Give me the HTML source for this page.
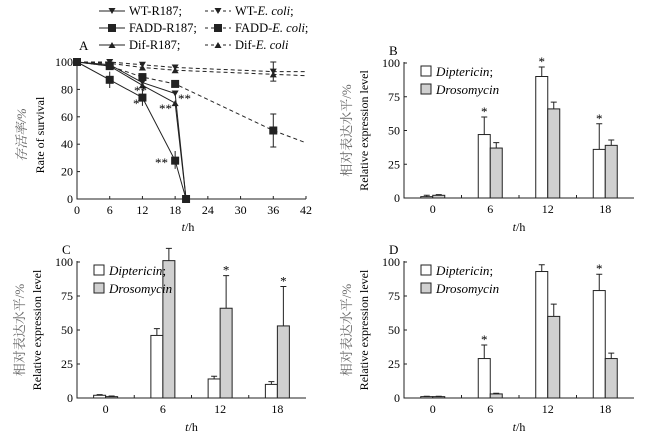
<!DOCTYPE html>
<html><head><meta charset="utf-8"><style>
body{margin:0;background:#fff;}
svg, svg text{font-family:"Liberation Serif","Times New Roman","Noto Serif CJK SC",serif;}
svg{display:block;}
</style></head><body>
<svg id="fig" width="659" height="441" viewBox="0 0 659 441" font-family="Liberation Serif, Noto Serif CJK SC, serif"></svg>
<script>
// Panel A data
const timesA = [0, 6, 12, 18, 20, 36, 42];
const wtR187 = [100, 98, 85, 77, 0, null, null];
const faddR187 = [100, 87, 74, 28, 0, null, null];
const difR187 = [100, 97, 83, 70, 0, null, null];
const wtEcoli = [100, 100, 98, 96, null, 93, 93];
const faddEcoli = [100, 97, 89, 84, null, 50, 41];
const difEcoli = [100, 99, 96, 94, null, 91, 90];
const xTicksA = [0, 6, 12, 18, 24, 30, 36, 42];
const yTicksA = [0, 20, 40, 60, 80, 100];
// Panels B-D data
const categories = ["0", "6", "12", "18"];
const diptB = [1, 47, 90, 36]; const drosB = [2, 37, 66, 39];
const diptBErr = [1, 13, 7, 19]; const drosBErr = [0.5, 4, 5, 4];
const diptC = [2, 46, 14, 10]; const drosC = [1, 101, 66, 53];
const diptCErr = [0.5, 5, 2, 2]; const drosCErr = [0.5, 9, 24, 29];
const diptD = [1, 29, 93, 79]; const drosD = [1, 3, 60, 29];
const diptDErr = [0.3, 10, 5, 12]; const drosDErr = [0.3, 0.5, 9, 4];
const starsB = [false, true, true, true];
const starsC = [false, false, true, true];
const starsD = [false, true, false, true];
const yTicksBar = [0, 25, 50, 75, 100];

const NS = "http://www.w3.org/2000/svg";
const svg = document.getElementById("fig");
function el(tag, attrs, parent, text){
  const e = document.createElementNS(NS, tag);
  for (const k in attrs) e.setAttribute(k, attrs[k]);
  if (text !== undefined) e.textContent = text;
  (parent || svg).appendChild(e);
  return e;
}
function marker(g, type, x, y){
  let m;
  if (type === "sq") m = el("rect", {x:x-4, y:y-4, width:8, height:8, fill:"#222"}, g);
  else if (type === "down") m = el("polygon", {points:`${x-3.5},${y-3} ${x+3.5},${y-3} ${x},${y+3}`, fill:"#222"}, g);
  else m = el("polygon", {points:`${x-3.5},${y+3} ${x+3.5},${y+3} ${x},${y-3}`, fill:"#222"}, g);
  
  
}

// ---------- Panel A ----------
(function(){
  const g = el("g", {});  
  const x0 = 77, x1 = 306, y0 = 199, y1 = 62;
  const xs = v => x0 + (v/42)*(x1-x0);
  const ys = v => y0 - (v/100)*(y0-y1);
  const ax = el("path", {d:`M${x0},${y1-2} V${y0} H${x1}`, stroke:"#222", fill:"none", "stroke-width":1}, g);
   
  xTicksA.forEach(t => {
    el("line", {x1:xs(t), x2:xs(t), y1:y0, y2:y0-3, stroke:"#222"}, g);
    const l = el("text", {x:xs(t), y:y0+15, "font-size":12, "text-anchor":"middle"}, g, t);
     
  });
  yTicksA.forEach(t => {
    el("line", {x1:x0, x2:x0+3, y1:ys(t), y2:ys(t), stroke:"#222"}, g);
    const l = el("text", {x:x0-4, y:ys(t)+4, "font-size":12, "text-anchor":"end"}, g, t);
     
  });
  const series = [
    [wtR187, "down", false], [faddR187, "sq", false], [difR187, "up", false],
    [wtEcoli, "down", true], [faddEcoli, "sq", true], [difEcoli, "up", true]];
  series.forEach(([vals, m, dash]) => {
    const pts = [];
    vals.forEach((v,i) => { if (v !== null) pts.push([xs(timesA[i]), ys(v), timesA[i]]); });
    const p = el("polyline", {points: pts.map(p=>p[0]+","+p[1]).join(" "), fill:"none", stroke:"#222", "stroke-width":1, "stroke-dasharray": dash ? "4,3" : "none"}, g);
     
    pts.forEach(p => { if (p[2] !== 42) marker(g, m, p[0], p[1]); });
  });
  el("path", {d:`M${xs(36)},${ys(38)} V${ys(62)} M${xs(36)-3},${ys(38)} h6 M${xs(36)-3},${ys(62)} h6`, stroke:"#222"}, g);
  el("path", {d:`M${xs(36)},${ys(86)} V${ys(100)} M${xs(36)-3},${ys(86)} h6 M${xs(36)-3},${ys(100)} h6`, stroke:"#222"}, g);
  el("path", {d:`M${xs(18)},${ys(22)} V${ys(35)} M${xs(6)},${ys(81)} V${ys(93)} M${xs(12)},${ys(68)} V${ys(80)}`, stroke:"#222"}, g);
  [["*",133,108],["**",134,95],["**",178,103],["**",159,113],["**",155,167]].forEach(a=>{
    const s = el("text", {x:a[1], y:a[2], "font-size":13}, g, a[0]);
     
  });
  const lA = el("text", {x:79, y:50, "font-size":13}, g, "A");  
  const yl = el("text", {transform:"translate(26,135) rotate(-90)", "font-size":12, "text-anchor":"middle"}, g);
   
  el("tspan", {x:0, y:0, fill:"#666", "font-style":"italic", "font-size":13}, yl, "存活率/%");
  el("tspan", {x:0, y:18}, yl, "Rate of survival");
  const xl = el("text", {x:188, y:231, "font-size":12, "text-anchor":"middle"}, g);
   
  el("tspan", {"font-style":"italic"}, xl, "t"); el("tspan", {}, xl, "/h");
  const leg = [["WT-R187;","down",false,99,15],["FADD-R187;","sq",false,99,32],["Dif-R187;","up",false,99,49],
               ["WT-","down",true,205,15],["FADD-","sq",true,205,32],["Dif-","up",true,205,49]];
  leg.forEach((L,i)=>{
    const lg = el("g", {}, g);  
    el("line", {x1:L[3], x2:L[3]+26, y1:L[4]-4, y2:L[4]-4, stroke:"#222", "stroke-dasharray": L[2]?"3,3":"none"}, lg);
    marker(lg, L[1], L[3]+13, L[4]-4);
    const t = el("text", {x:L[3]+30, y:L[4], "font-size":12.5}, lg, L[0]);
    if (L[2]) { el("tspan", {"font-style":"italic"}, t, "E. coli"); if (i<5) el("tspan", {}, t, ";"); }
  });
})();

// ---------- Bar panels ----------
function barPanel(name, label, x0, x1, y0, y1, dipt, dros, de, re, stars){
  const g = el("g", {});  
  const ys = v => y0 - (v/100)*(y0-y1);
  const step = (x1 - x0) / 4;
  const cx = i => x0 + step*(i+0.5);
  const ax = el("path", {d:`M${x0},${y1-1} V${y0} H${x1}`, stroke:"#222", fill:"none"}, g);
   
  for (let i=1;i<4;i++) el("line", {x1:x0+step*i, x2:x0+step*i, y1:y0, y2:y0-3, stroke:"#222"}, g);
  yTicksBar.forEach(t=>{
    el("line", {x1:x0, x2:x0+3, y1:ys(t), y2:ys(t), stroke:"#222"}, g);
    const l = el("text", {x:x0-4, y:ys(t)+4, "font-size":12, "text-anchor":"end"}, g, t);
     
  });
  const bw = 12;
  categories.forEach((c,i)=>{
    const l = el("text", {x:cx(i), y:y0+15, "font-size":12, "text-anchor":"middle"}, g, c);
     
    [[dipt[i], de[i], "#fff", cx(i)-bw],[dros[i], re[i], "#d0d0d0", cx(i)]].forEach(([v,e,f,x])=>{
      const eb = el("path", {d:`M${x+bw/2},${ys(v)} V${ys(v+e)} M${x+bw/2-3},${ys(v+e)} h6`, stroke:"#222"}, g);
       
      const r = el("rect", {x:x, y:ys(v), width:bw, height:y0-ys(v), fill:f, stroke:"#222", "stroke-width":1}, g);
       
    });
    if (stars[i]) {
      const big = Math.max(dipt[i]+de[i], dros[i]+re[i]);
      const sx = (dipt[i]+de[i] >= dros[i]+re[i]) ? cx(i)-bw/2 : cx(i)+bw/2;
      const s = el("text", {x:sx, y:ys(big)-1, "font-size":13, "text-anchor":"middle"}, g, "*");
       
    }
  });
  const pl = el("text", {x:x0-15, y:y1-8, "font-size":13}, g, label);
   
  const yl = el("text", {transform:`translate(${x0-53},${(y0+y1)/2}) rotate(-90)`, "font-size":12, "text-anchor":"middle"}, g);
   
  el("tspan", {x:0, y:0, fill:"#666", "font-size":13}, yl, "相对表达水平/%");
  el("tspan", {x:0, y:17}, yl, "Relative expression level");
  const xl = el("text", {x:(x0+x1)/2, y:y0+33, "font-size":12, "text-anchor":"middle"}, g);
   
  el("tspan", {"font-style":"italic"}, xl, "t"); el("tspan", {}, xl, "/h");
  [["Diptericin",";","#fff",y1+13],["Drosomycin","","#d0d0d0",y1+31]].forEach(L=>{
    const lg = el("g", {}, g);  
    el("rect", {x:x0+17, y:L[3]-10, width:10, height:10, fill:L[2], stroke:"#222"}, lg);
    const t = el("text", {x:x0+32, y:L[3], "font-size":13}, lg);
    el("tspan", {"font-style":"italic"}, t, L[0]); el("tspan", {}, t, L[1]);
  });
}
barPanel("panel-b","B",404,634,198,63,diptB,drosB,diptBErr,drosBErr,starsB);
barPanel("panel-c","C",77,306,398,262,diptC,drosC,diptCErr,drosCErr,starsC);
barPanel("panel-d","D",404,634,398,262,diptD,drosD,diptDErr,drosDErr,starsD);
</script>
</body></html>
